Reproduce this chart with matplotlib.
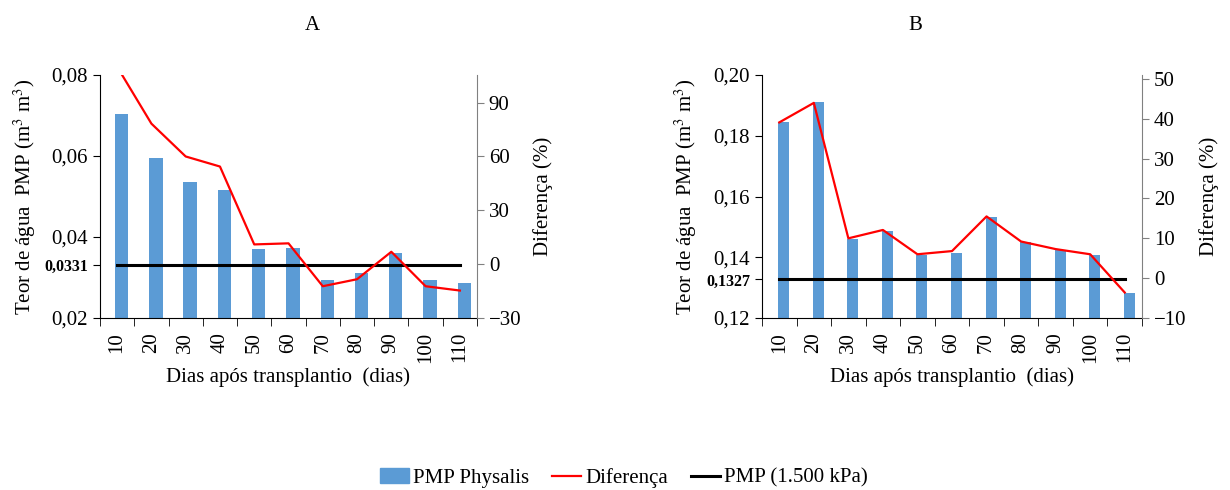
import numpy as np
import matplotlib
matplotlib.use("Agg")
import matplotlib.pyplot as plt
from matplotlib.patches import Patch
from matplotlib.lines import Line2D

plt.rcParams['font.family'] = ['Liberation Serif', 'DejaVu Serif']
plt.rcParams['mathtext.fontset'] = 'stix'
plt.rcParams['font.size'] = 15

# dados
dias = ['10', '20', '30', '40', '50', '60', '70', '80', '90', '100', '110']

pmp_a = [0.0704, 0.0596, 0.0536, 0.0516, 0.0371, 0.0374, 0.0295, 0.0310, 0.0361, 0.0295, 0.0287]
dif_a = [110.0, 78.3, 60.0, 54.4, 11.0, 11.6, -12.3, -8.4, 6.9, -12.3, -14.7]
ref_a = 0.0331

pmp_b = [0.1844, 0.1910, 0.1459, 0.1486, 0.1407, 0.1414, 0.1533, 0.1451, 0.1423, 0.1407, 0.1282]
dif_b = [39.1, 44.0, 10.0, 12.1, 6.0, 6.8, 15.5, 9.2, 7.3, 6.0, -3.6]
ref_b = 0.1327

azul = '#5B9BD5'
cinza = '#808080'


def painel(rect, titulo, tpos, pmp, dif, ref, ylim, yticks, ylim2, yticks2, bar_w):
    ax = fig.add_axes(rect)
    x = np.arange(len(dias))
    ax.bar(x + 0.13, pmp, width=bar_w, color=azul, zorder=2)
    ax.plot([x[0], x[-1]], [ref, ref], color='black', lw=2.2, zorder=3)
    ax.set_xlim(-0.5, len(dias) - 0.5)
    ax.set_ylim(*ylim)

    # ticks y com o valor de referencia em negrito
    ticks = sorted(list(yticks) + [ref])
    ax.set_yticks(ticks)
    labs = []
    for t in ticks:
        if t == ref:
            labs.append(('%.4f' % t).replace('.', ','))
        else:
            labs.append(('%.2f' % t).replace('.', ','))
    ax.set_yticklabels(labs)
    i = ticks.index(ref)
    lab = ax.get_yticklabels()[i]
    lab.set_fontweight('bold')
    lab.set_fontsize(11.5)
    tk = ax.yaxis.get_major_ticks()[i]
    tk.tick1line.set_markeredgewidth(2.5)
    tk.tick1line.set_markersize(3)

    ax.set_xticks(x)
    ax.set_xticklabels(dias, rotation=90)
    ax.set_xticks(np.arange(len(dias) + 1) - 0.5, minor=True)
    ax.tick_params(axis='x', which='major', length=0, pad=10)
    ax.tick_params(axis='x', which='minor', length=6, direction='out')
    ax.tick_params(axis='y', direction='out', length=5)

    ax.spines['top'].set_visible(False)
    ax.spines['right'].set_visible(False)

    ax2 = ax.twinx()
    ax2.plot(x, dif, color='red', lw=1.6, zorder=4)
    ax2.set_ylim(*ylim2)
    ax2.set_yticks(yticks2)
    ax2.tick_params(axis='y', direction='out', length=5, color=cinza)
    ax2.spines['right'].set_color(cinza)
    for s in ['top', 'left', 'bottom']:
        ax2.spines[s].set_visible(False)

    ax.set_xlabel('Dias após transplantio  (dias)', labelpad=3)
    ax.set_ylabel('Teor de água  PMP (m$^3$ m$^3$)')
    ax.yaxis.set_label_coords(-0.165, 0.5)
    ax2.set_ylabel('Diferença (%)')
    ax2.yaxis.set_label_coords(1.15, 0.5)
    fig.text(tpos[0] / 1230, 1 - tpos[1] / 490, titulo, ha='center', va='center')
    return ax, ax2


fig = plt.figure(figsize=(12.3, 4.9), dpi=100)

painel([100 / 1230, 1 - 318 / 490, 377 / 1230, 243 / 490], 'A', (312, 25),
       pmp_a, dif_a, ref_a, (0.02, 0.08), [0.02, 0.04, 0.06, 0.08],
       (-30, 105.4), [-30, 0, 30, 60, 90], 0.39)
painel([762 / 1230, 1 - 318 / 490, 380 / 1230, 243 / 490], 'B', (915, 25),
       pmp_b, dif_b, ref_b, (0.12, 0.20), [0.12, 0.14, 0.16, 0.18, 0.20],
       (-10, 51), [-10, 0, 10, 20, 30, 40, 50], 0.32)

handles = [Patch(color=azul), Line2D([], [], color='red', lw=1.6),
           Line2D([], [], color='black', lw=2.2)]
fig.legend(handles, ['PMP Physalis', 'Diferença', 'PMP (1.500 kPa)'],
           loc='center', bbox_to_anchor=(624 / 1230, 1 - 478 / 490), ncol=3,
           frameon=False, handlelength=1.4, handletextpad=0.2, columnspacing=1.1)

fig.savefig('out.png', dpi=100)
